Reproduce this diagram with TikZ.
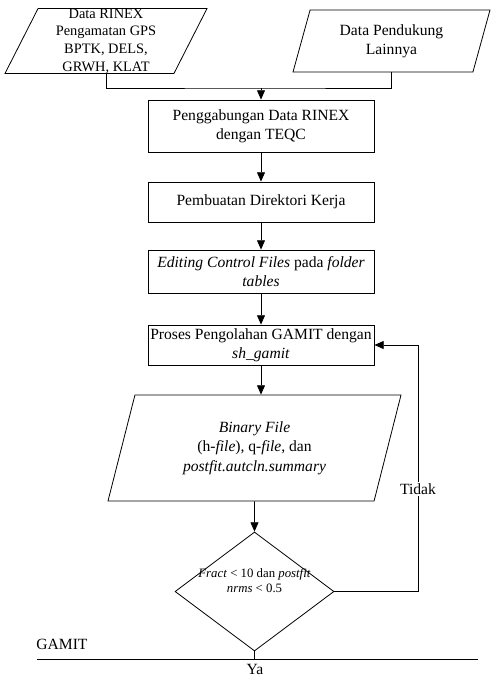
\documentclass[tikz,border=0pt]{standalone}
\usepackage{fontspec}
\setmainfont{Liberation Serif}
\usetikzlibrary{shapes.geometric,arrows.meta}

\begin{document}
\begin{tikzpicture}[x=0.75pt,y=-0.75pt,line width=0.6pt,
    >={Triangle[length=7pt,width=6pt]},
    teks/.style={font=\fontsize{11.7}{14.5}\selectfont},
    proses/.style={teks,draw,rectangle,minimum width=169.5pt,align=center,inner sep=1pt},
    data/.style={draw,trapezium,trapezium left angle=63,trapezium right angle=117,
        trapezium stretches body,align=center,inner sep=0pt},
    keputusan/.style={draw,diamond,minimum width=119.25pt,minimum height=89.25pt,inner sep=0pt}]
    \useasboundingbox (0,0) rectangle (490,677);

    % masukan
    \node[data,minimum width=151.5pt,minimum height=46.5pt,font=\fontsize{10.8}{13.3}\selectfont]
        (dataA) at (106,41) {Data RINEX\\Pengamatan GPS\\BPTK, DELS,\\GRWH, KLAT};
    \node[data,teks,minimum width=147.75pt,minimum height=46.5pt]
        (dataB) at (391.5,41) {Data Pendukung\\Lainnya};

    % proses
    \node[proses,minimum height=39pt] (gabung) at (261,126) {Penggabungan Data RINEX\\dengan TEQC};
    \node[proses,minimum height=30pt] (direktori) at (261,202) {Pembuatan Direktori Kerja};
    \node[proses,minimum height=32.25pt] (editing) at (261,271.5) {\textit{Editing Control Files} pada \textit{folder}\\\textit{tables}};
    \node[proses,minimum height=30pt] (gamit) at (261,345) {Proses Pengolahan GAMIT dengan\\\textit{sh\_gamit}};
    \node[data,teks,minimum width=219.75pt,minimum height=79.5pt]
        (binary) at (254.5,448) {\textit{Binary File}\\(h-\textit{file}), q-\textit{file}, dan\\\textit{postfit.autcln.summary}};
    \node[keputusan] (cek) at (254.5,591.5) {};
    \node[font=\fontsize{9.6}{11.2}\selectfont,align=center,inner sep=0pt] (cektxt) at (254.5,581)
        {\textit{Fract} < 10 dan \textit{postfit}\\\textit{nrms} < 0.5};

    % garis
    \coordinate (pisah) at (261,88);
    \coordinate (balik) at (418,345);
    \draw (dataA.south) |- (pisah) -| (dataB.south);
    \draw[->] (pisah) -- (gabung);
    \draw[->] (gabung) -- (direktori);
    \draw[->] (direktori) -- (editing);
    \draw[->] (editing) -- (gamit);
    \draw[->] (gamit.south) -- (gamit.south |- binary.north);
    \draw[->] (binary) -- (cek);
    \draw[->] (cek.east) -| (balik) -- (gamit.east);
    \node[teks,fill=white,inner sep=1pt] (tidak) at (418,489) {Tidak};

    % batas GAMIT
    \node[teks,anchor=west,inner sep=0pt] (label) at (36,644) {GAMIT};
    \coordinate (batasA) at (37,659);
    \coordinate (batasB) at (478,659);
    \draw (batasA) -- (batasB);
    \draw (cek.south) -- (cek.south |- batasA);
    \node[teks,inner sep=0pt] (ya) at (255,669) {Ya};
\end{tikzpicture}
\end{document}
